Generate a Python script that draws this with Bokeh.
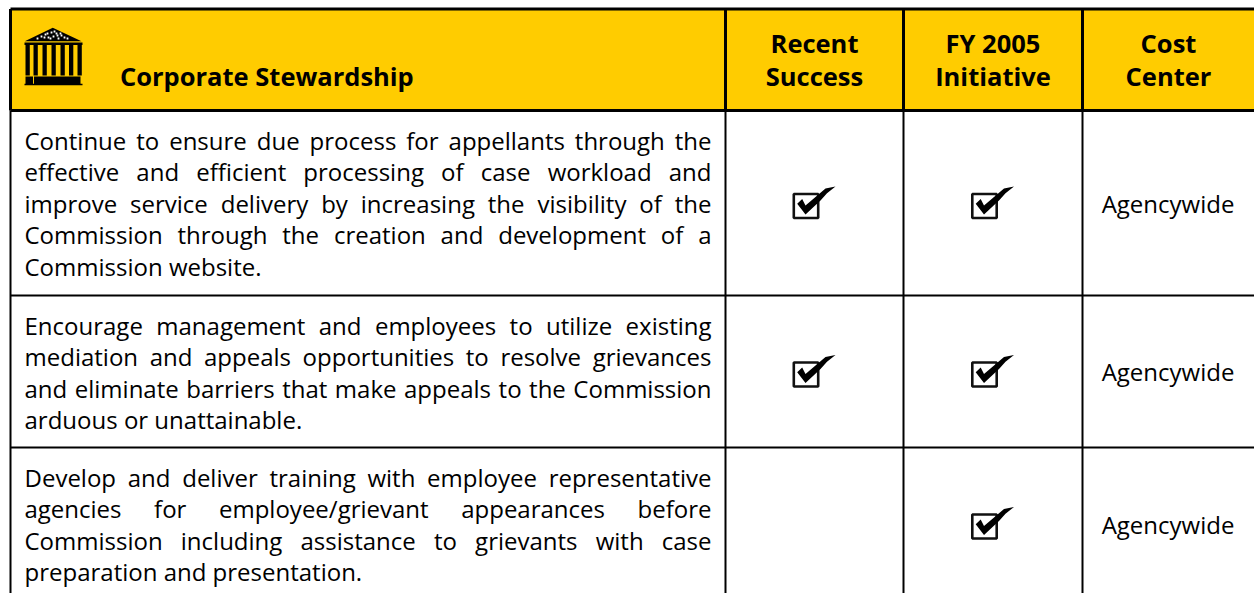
from bokeh.plotting import figure
from bokeh.document import Document
from bokeh.models import ColumnDataSource, CustomJS
from bokeh.core.properties import value
from bokeh.embed import file_html
from bokeh.resources import INLINE

title = "Corporate Stewardship"
headers = [["Recent", "Success"], ["FY 2005", "Initiative"], ["Cost", "Center"]]
row_lines = [
    ["Continue to ensure due process for appellants through the",
     "effective and efficient processing of case workload and",
     "improve service delivery by increasing the visibility of the",
     "Commission through the creation and development of a",
     "Commission website."],
    ["Encourage management and employees to utilize existing",
     "mediation and appeals opportunities to resolve grievances",
     "and eliminate barriers that make appeals to the Commission",
     "arduous or unattainable."],
    ["Develop and deliver training with employee representative",
     "agencies for employee/grievant appearances before",
     "Commission including assistance to grievants with case",
     "preparation and presentation."],
]
recent_success = [True, True, False]
fy2005_initiative = [True, True, True]
cost_center = ["Agencywide", "Agencywide", "Agencywide"]

BODY_FONT = "Open Sans"
HEAD_FONT = "Open Sans"
BODY_SIZE = 24
HEAD_SIZE = 25.5
GOLD = "#FFCC00"
W, H = 1254, 593

col_x = [10, 725, 903, 1082, 1254]       # column boundaries
head_top, head_bot = 8.5, 110
row_bot = [295, 447, 600]
row_baseline = [139.5, 324.5, 476.5]
line_step = 31.6
text_left, text_right = 24, 711

p = figure(width=W, height=H, x_range=(0, W), y_range=(H, 0), output_backend="svg",
           toolbar_location=None, min_border=0, outline_line_color=None,
           background_fill_color="white", border_fill_color="white")
p.axis.visible = False
p.grid.visible = False
BOTTOM, RIGHT = H, W

# header band
p.quad(left=[col_x[0]], right=[RIGHT], top=[head_top], bottom=[head_bot], fill_color=GOLD, line_color=None)

# grid
p.multi_line(xs=[[col_x[0], RIGHT], [col_x[0], RIGHT]], ys=[[head_top, head_top], [head_bot, head_bot]],
             line_color="black", line_width=3)
p.multi_line(xs=[[col_x[0], RIGHT], [col_x[0], RIGHT]], ys=[[row_bot[0]] * 2, [row_bot[1]] * 2],
             line_color="black", line_width=2)
for x in col_x[:4]:
    p.line([x, x], [head_top, head_bot], line_color="black", line_width=3)
    p.line([x, x], [head_bot, BOTTOM], line_color="black", line_width=2)

# header text
p.text(x=[119.5], y=[75], text=[title], text_font=value(HEAD_FONT), text_font_style="bold",
       text_font_size=f"{HEAD_SIZE}px", text_color="black", text_baseline="alphabetic")
hx, hy, ht = [], [], []
for i, pair in enumerate(headers):
    cx = (col_x[i + 1] + col_x[i + 2]) / 2
    for j, t in enumerate(pair):
        hx.append(cx); hy.append(42 + j * 33); ht.append(t)
p.text(x=hx, y=hy, text=ht, text_font=value(HEAD_FONT), text_font_style="bold",
       text_font_size=f"{HEAD_SIZE}px", text_color="black", text_align="center", text_baseline="alphabetic")

# temple icon
p.patch([52.3, 81, 24.3], [27.3, 40.7, 40.7], fill_color="black", line_color=None)
p.quad(left=[24], right=[82], top=[42], bottom=[44.5], fill_color="black", line_color=None)
col_l = [25, 33, 42, 51, 60, 68.5, 77]
p.quad(left=col_l, right=[c + 4.3 for c in col_l], top=[44] * 7, bottom=[75] * 7, fill_color="black", line_color=None)
p.quad(left=[25, 33.5], right=[32.5, 80], top=[76, 76], bottom=[83.5, 83.5], fill_color="black", line_color=None)
p.quad(left=[24], right=[82], top=[83.3], bottom=[84.8], fill_color="black", line_color=None)
p.square(x=[37, 41, 45, 48, 51, 53, 56, 58, 61, 64, 67, 50, 54, 47, 57, 44, 60],
         y=[38, 36, 34, 37, 32, 36, 33, 38, 35, 37, 38, 38, 31, 33, 35, 37, 33],
         size=1.8, fill_color="white", line_color=None)

# check marks
def check(cx, cy):
    p.quad(left=[cx - 12.2], right=[cx + 12.2], top=[cy - 12], bottom=[cy + 12],
           fill_color=None, line_color="#111111", line_width=2.6)
    p.patch([cx - 8.8, cx - 3.8, cx - 0.5, cx + 19.5, cx + 29.5, cx + 21, cx + 14.5, cx - 0.5],
            [cy - 2.2, cy - 7, cy - 0.5, cy - 17.5, cy - 19.5, cy - 12.8, cy - 5.5, cy + 8.5],
            fill_color="black", line_color=None)

for r in range(3):
    cy = [205.5, 374, 526][r]
    if recent_success[r]:
        check(805.5, cy)
    if fy2005_initiative[r]:
        check(984, cy)

# cost centre text
p.text(x=[(col_x[3] + col_x[4]) / 2 - 0.5] * 3, y=[202.5, 370.5, 523.5], text=cost_center,
       text_font=value(BODY_FONT), text_font_size=f"{BODY_SIZE}px", text_color="black",
       text_align="center", text_baseline="alphabetic")

# body text: one text item per word, so the lines can be justified
words, xs, ys, line_id, justify = [], [], [], [], []
lid = 0
for r, lines in enumerate(row_lines):
    for k, line in enumerate(lines):
        last = k == len(lines) - 1
        cur = text_left
        for w in line.split(" "):
            words.append(w); xs.append(cur); ys.append(row_baseline[r] + k * line_step)
            line_id.append(lid); justify.append(not last)
            cur += (len(w) + 1) * BODY_SIZE * 0.52
        lid += 1
src = ColumnDataSource(dict(x=xs, y=ys, word=words, line=line_id, justify=justify))
p.text(x="x", y="y", text="word", source=src, text_font=value(BODY_FONT), text_font_size=f"{BODY_SIZE}px",
       text_color="black", text_baseline="alphabetic")

layout_js = CustomJS(args=dict(src=src, L=text_left, R=text_right, font=f"{BODY_SIZE}px '{BODY_FONT}'"), code="""
const ctx = document.createElement('canvas').getContext('2d');
ctx.font = font;
const d = src.data, n = d.word.length;
const space = ctx.measureText(' ').width;
const x = Array.from(d.x);
let i = 0;
while (i < n) {
  let j = i, sum = 0;
  while (j < n && d.line[j] === d.line[i]) { sum += ctx.measureText(d.word[j]).width; j++; }
  const gap = d.justify[i] && j - i > 1 ? (R - L - sum) / (j - i - 1) : space;
  let cur = L;
  for (let k = i; k < j; k++) { x[k] = cur; cur += ctx.measureText(d.word[k]).width + gap; }
  i = j;
}
src.data = {...d, x};
""")

doc = Document()
doc.add_root(p)
doc.js_on_event("document_ready", layout_js)
open("out.html", "w").write(file_html(doc, INLINE))
